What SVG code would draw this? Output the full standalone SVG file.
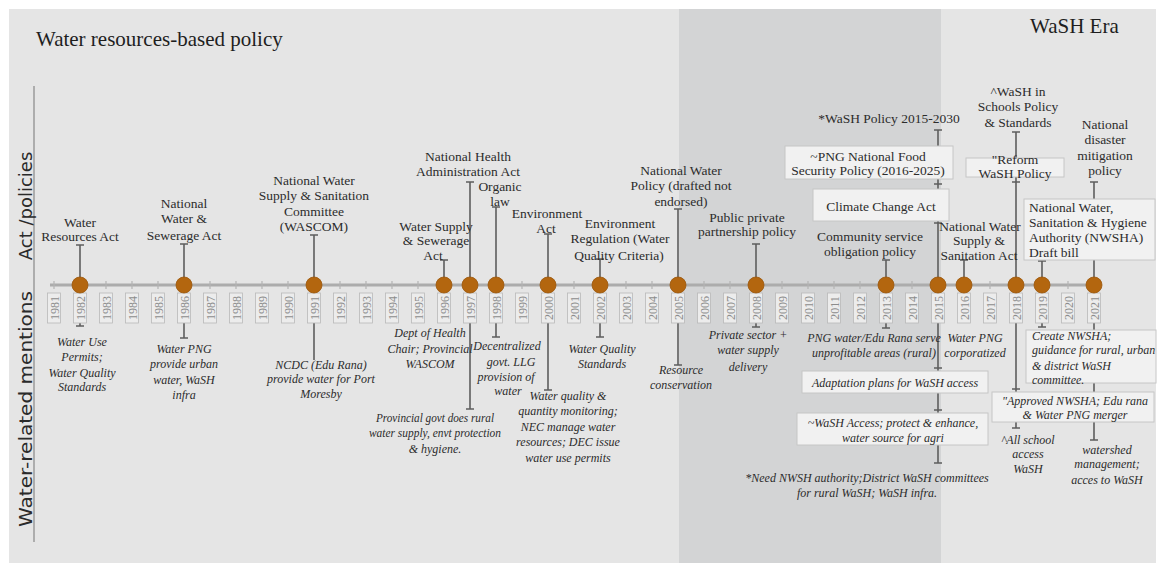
<svg xmlns="http://www.w3.org/2000/svg" width="1162" height="571" viewBox="0 0 1162 571">
<style>
.title{font-family:"Liberation Serif",serif;font-size:21px;fill:#1e1e1e}
.axl{font-family:"DejaVu Sans",sans-serif;font-size:18px;fill:#2a2a2a;text-anchor:middle}
.top{font-family:"Liberation Serif",serif;font-size:13.5px;fill:#2c2c2c;text-anchor:middle}
.topl{font-family:"Liberation Serif",serif;font-size:13.5px;fill:#2c2c2c}
.bot{font-family:"Liberation Serif",serif;font-style:italic;font-size:12px;fill:#2c2c2c;text-anchor:middle}
.botl{font-family:"Liberation Serif",serif;font-style:italic;font-size:12px;fill:#2c2c2c}
.yr{font-family:"Liberation Serif",serif;font-size:12px;fill:#8c8c8c;text-anchor:middle}
.ybox{fill:#ececec;stroke:#b9b9b9;stroke-width:0.8}
.box{fill:#f1f1f1;stroke:#c6c6c6;stroke-width:1}
.dot{fill:#b3660f;stroke:#9a560a;stroke-width:0.8}
.stem{fill:none;stroke:#5e5e5e;stroke-width:1.6}
.tick{stroke:#b4b4b4;stroke-width:1.2}
</style>
<rect x="0" y="0" width="1162" height="571" fill="#ffffff"/>
<rect x="9" y="9" width="1147" height="554" fill="#e5e5e5"/>
<rect x="679" y="9" width="262" height="554" fill="#d3d4d5"/>
<text class="title" x="36" y="46">Water resources-based policy</text>
<text class="title" x="1030" y="33">WaSH Era</text>
<line x1="34" y1="86" x2="34" y2="542" stroke="#9a9a9a" stroke-width="1.5"/>
<text class="axl" transform="translate(32,206) rotate(-90)">Act /policies</text>
<text class="axl" transform="translate(32,409) rotate(-90)" textLength="236" lengthAdjust="spacingAndGlyphs">Water-related mentions</text>
<g id="axis">
<line x1="50" y1="285" x2="1100" y2="285" stroke="#acacac" stroke-width="3"/>
<path class="tick" d="M54 281V289M80 281V289M106 281V289M132 281V289M158 281V289M184 281V289M210 281V289M236 281V289M262 281V289M288 281V289M314 281V289M340 281V289M366 281V289M392 281V289M418 281V289M444 281V289M470 281V289M496 281V289M522 281V289M548 281V289M574 281V289M600 281V289M626 281V289M652 281V289M678 281V289M704 281V289M730 281V289M756 281V289M782 281V289M808 281V289M834 281V289M860 281V289M886 281V289M912 281V289M938 281V289M964 281V289M990 281V289M1016 281V289M1042 281V289M1068 281V289M1094 281V289"/>
</g>
<g id="connectors">
<path class="stem" d="M80 285V245M76 245H84M80 285V326M76 326H84"/>
<path class="stem" d="M184 285V244M180 244H188M184 285V338M180 338H188"/>
<path class="stem" d="M314 285V235M310 235H318M314 285V360"/>
<path class="stem" d="M444 285V260M440 260H448"/>
<path class="stem" d="M470 285V182M466 182H474M470 285V409M466 409H474"/>
<path class="stem" d="M496 285V207M492 207H500M496 285V337M492 337H500"/>
<path class="stem" d="M548 285V234M544 234H552M548 285V390M544 390H552"/>
<path class="stem" d="M600 285V259M596 259H604M600 285V337M596 337H604"/>
<path class="stem" d="M678 285V209M674 209H682M678 285V365M674 365H682"/>
<path class="stem" d="M756 285V244M752 244H760M756 285V327M752 327H760"/>
<path class="stem" d="M886 285V260M882 260H890M886 285V328M882 328H890"/>
<path class="stem" d="M938 285V130M934 130H942M934 184H942M934 223H942M938 285V463M934 368H942M934 410H942M934 463H942"/>
<path class="stem" d="M964 285V260M960 260H968"/>
<path class="stem" d="M1016 285V132M1012 132H1020M1012 182H1020M1016 285V428M1012 389H1020M1012 428H1020"/>
<path class="stem" d="M1042 285V261M1038 261H1046M1042 285V327M1038 327H1046"/>
<path class="stem" d="M1094 285V182M1090 182H1098M1094 285V440M1090 440H1098"/>
</g>
<g id="years">
<rect class="ybox" x="47.5" y="293" width="13" height="30"/><text class="yr" transform="translate(58.5,308) rotate(-90)">1981</text>
<rect class="ybox" x="73.5" y="293" width="13" height="30"/><text class="yr" transform="translate(84.5,308) rotate(-90)">1982</text>
<rect class="ybox" x="99.5" y="293" width="13" height="30"/><text class="yr" transform="translate(110.5,308) rotate(-90)">1983</text>
<rect class="ybox" x="125.5" y="293" width="13" height="30"/><text class="yr" transform="translate(136.5,308) rotate(-90)">1984</text>
<rect class="ybox" x="151.5" y="293" width="13" height="30"/><text class="yr" transform="translate(162.5,308) rotate(-90)">1985</text>
<rect class="ybox" x="177.5" y="293" width="13" height="30"/><text class="yr" transform="translate(188.5,308) rotate(-90)">1986</text>
<rect class="ybox" x="203.5" y="293" width="13" height="30"/><text class="yr" transform="translate(214.5,308) rotate(-90)">1987</text>
<rect class="ybox" x="229.5" y="293" width="13" height="30"/><text class="yr" transform="translate(240.5,308) rotate(-90)">1988</text>
<rect class="ybox" x="255.5" y="293" width="13" height="30"/><text class="yr" transform="translate(266.5,308) rotate(-90)">1989</text>
<rect class="ybox" x="281.5" y="293" width="13" height="30"/><text class="yr" transform="translate(292.5,308) rotate(-90)">1990</text>
<rect class="ybox" x="307.5" y="293" width="13" height="30"/><text class="yr" transform="translate(318.5,308) rotate(-90)">1991</text>
<rect class="ybox" x="333.5" y="293" width="13" height="30"/><text class="yr" transform="translate(344.5,308) rotate(-90)">1992</text>
<rect class="ybox" x="359.5" y="293" width="13" height="30"/><text class="yr" transform="translate(370.5,308) rotate(-90)">1993</text>
<rect class="ybox" x="385.5" y="293" width="13" height="30"/><text class="yr" transform="translate(396.5,308) rotate(-90)">1994</text>
<rect class="ybox" x="411.5" y="293" width="13" height="30"/><text class="yr" transform="translate(422.5,308) rotate(-90)">1995</text>
<rect class="ybox" x="437.5" y="293" width="13" height="30"/><text class="yr" transform="translate(448.5,308) rotate(-90)">1996</text>
<rect class="ybox" x="463.5" y="293" width="13" height="30"/><text class="yr" transform="translate(474.5,308) rotate(-90)">1997</text>
<rect class="ybox" x="489.5" y="293" width="13" height="30"/><text class="yr" transform="translate(500.5,308) rotate(-90)">1998</text>
<rect class="ybox" x="515.5" y="293" width="13" height="30"/><text class="yr" transform="translate(526.5,308) rotate(-90)">1999</text>
<rect class="ybox" x="541.5" y="293" width="13" height="30"/><text class="yr" transform="translate(552.5,308) rotate(-90)">2000</text>
<rect class="ybox" x="567.5" y="293" width="13" height="30"/><text class="yr" transform="translate(578.5,308) rotate(-90)">2001</text>
<rect class="ybox" x="593.5" y="293" width="13" height="30"/><text class="yr" transform="translate(604.5,308) rotate(-90)">2002</text>
<rect class="ybox" x="619.5" y="293" width="13" height="30"/><text class="yr" transform="translate(630.5,308) rotate(-90)">2003</text>
<rect class="ybox" x="645.5" y="293" width="13" height="30"/><text class="yr" transform="translate(656.5,308) rotate(-90)">2004</text>
<rect class="ybox" x="671.5" y="293" width="13" height="30"/><text class="yr" transform="translate(682.5,308) rotate(-90)">2005</text>
<rect class="ybox" x="697.5" y="293" width="13" height="30"/><text class="yr" transform="translate(708.5,308) rotate(-90)">2006</text>
<rect class="ybox" x="723.5" y="293" width="13" height="30"/><text class="yr" transform="translate(734.5,308) rotate(-90)">2007</text>
<rect class="ybox" x="749.5" y="293" width="13" height="30"/><text class="yr" transform="translate(760.5,308) rotate(-90)">2008</text>
<rect class="ybox" x="775.5" y="293" width="13" height="30"/><text class="yr" transform="translate(786.5,308) rotate(-90)">2009</text>
<rect class="ybox" x="801.5" y="293" width="13" height="30"/><text class="yr" transform="translate(812.5,308) rotate(-90)">2010</text>
<rect class="ybox" x="827.5" y="293" width="13" height="30"/><text class="yr" transform="translate(838.5,308) rotate(-90)">2011</text>
<rect class="ybox" x="853.5" y="293" width="13" height="30"/><text class="yr" transform="translate(864.5,308) rotate(-90)">2012</text>
<rect class="ybox" x="879.5" y="293" width="13" height="30"/><text class="yr" transform="translate(890.5,308) rotate(-90)">2013</text>
<rect class="ybox" x="905.5" y="293" width="13" height="30"/><text class="yr" transform="translate(916.5,308) rotate(-90)">2014</text>
<rect class="ybox" x="931.5" y="293" width="13" height="30"/><text class="yr" transform="translate(942.5,308) rotate(-90)">2015</text>
<rect class="ybox" x="957.5" y="293" width="13" height="30"/><text class="yr" transform="translate(968.5,308) rotate(-90)">2016</text>
<rect class="ybox" x="983.5" y="293" width="13" height="30"/><text class="yr" transform="translate(994.5,308) rotate(-90)">2017</text>
<rect class="ybox" x="1009.5" y="293" width="13" height="30"/><text class="yr" transform="translate(1020.5,308) rotate(-90)">2018</text>
<rect class="ybox" x="1035.5" y="293" width="13" height="30"/><text class="yr" transform="translate(1046.5,308) rotate(-90)">2019</text>
<rect class="ybox" x="1061.5" y="293" width="13" height="30"/><text class="yr" transform="translate(1072.5,308) rotate(-90)">2020</text>
<rect class="ybox" x="1087.5" y="293" width="13" height="30"/><text class="yr" transform="translate(1098.5,308) rotate(-90)">2021</text>
</g>
<g id="ev-1982">
<circle class="dot" cx="80" cy="285" r="8"/>
<text class="top" x="80" y="227">Water</text><text class="top" x="80" y="241">Resources Act</text>
<text class="bot" x="82" y="346">Water Use</text><text class="bot" x="82" y="361">Permits;</text><text class="bot" x="82" y="377">Water Quality</text><text class="bot" x="82" y="391">Standards</text>
</g>
<g id="ev-1986">
<circle class="dot" cx="184" cy="285" r="8"/>
<text class="top" x="184" y="208">National</text><text class="top" x="184" y="223">Water &amp;</text><text class="top" x="184" y="240">Sewerage Act</text>
<text class="bot" x="184" y="353">Water PNG</text><text class="bot" x="184" y="368">provide urban</text><text class="bot" x="184" y="384">water, WaSH</text><text class="bot" x="184" y="399">infra</text>
</g>
<g id="ev-1991">
<circle class="dot" cx="314" cy="285" r="8"/>
<text class="top" x="314" y="185">National Water</text><text class="top" x="314" y="200">Supply &amp; Sanitation</text><text class="top" x="314" y="216">Committee</text><text class="top" x="314" y="231">(WASCOM)</text>
<text class="bot" x="321" y="369">NCDC (Edu Rana)</text><text class="bot" x="321" y="383">provide water for Port</text><text class="bot" x="321" y="398">Moresby</text>
</g>
<g id="ev-1996">
<circle class="dot" cx="444" cy="285" r="8"/>
<text class="top" x="436" y="231">Water Supply</text><text class="top" x="436" y="245">&amp; Sewerage</text><text class="top" x="433" y="260">Act</text>
<text class="bot" x="430" y="337">Dept of Health</text><text class="bot" x="430" y="353">Chair; Provincial</text><text class="bot" x="430" y="368">WASCOM</text>
</g>
<g id="ev-1997">
<circle class="dot" cx="470" cy="285" r="8"/>
<text class="top" x="468" y="161">National Health</text><text class="top" x="468" y="176">Administration Act</text>
<text class="bot" x="435" y="422" textLength="118" lengthAdjust="spacingAndGlyphs">Provincial govt does rural</text><text class="bot" x="435" y="437" textLength="132" lengthAdjust="spacingAndGlyphs">water supply, envt protection</text><text class="bot" x="435" y="453">&amp; hygiene.</text>
</g>
<g id="ev-1998">
<circle class="dot" cx="496" cy="285" r="8"/>
<text class="top" x="500" y="191">Organic</text><text class="top" x="500" y="206">law</text>
<text class="bot" x="507" y="350">Decentralized</text><text class="bot" x="511" y="366">govt. LLG</text><text class="bot" x="506" y="381">provision of</text><text class="bot" x="508" y="395">water</text>
</g>
<g id="ev-2000">
<circle class="dot" cx="548" cy="285" r="8"/>
<text class="top" x="547" y="218">Environment</text><text class="top" x="546" y="233">Act</text>
<text class="bot" x="568" y="400">Water quality &amp;</text><text class="bot" x="568" y="415">quantity monitoring;</text><text class="bot" x="568" y="431">NEC manage water</text><text class="bot" x="568" y="446">resources; DEC issue</text><text class="bot" x="568" y="462">water use permits</text>
</g>
<g id="ev-2002">
<circle class="dot" cx="600" cy="285" r="8"/>
<text class="top" x="620" y="228">Environment</text><text class="top" x="620" y="243">Regulation (Water</text><text class="top" x="619" y="260">Quality Criteria)</text>
<text class="bot" x="602" y="353">Water Quality</text><text class="bot" x="602" y="368">Standards</text>
</g>
<g id="ev-2005">
<circle class="dot" cx="678" cy="285" r="8"/>
<text class="top" x="681" y="175">National Water</text><text class="top" x="681" y="190">Policy (drafted not</text><text class="top" x="681" y="206">endorsed)</text>
<text class="bot" x="681" y="374">Resource</text><text class="bot" x="681" y="389">conservation</text>
</g>
<g id="ev-2008">
<circle class="dot" cx="756" cy="285" r="8"/>
<text class="top" x="747" y="222">Public private</text><text class="top" x="747" y="236">partnership policy</text>
<text class="bot" x="748" y="339">Private sector +</text><text class="bot" x="748" y="354">water supply</text><text class="bot" x="748" y="371">delivery</text>
</g>
<g id="ev-2013">
<circle class="dot" cx="886" cy="285" r="8"/>
<text class="top" x="870" y="241">Community service</text><text class="top" x="870" y="256">obligation policy</text>
<text class="bot" x="874" y="342">PNG water/Edu Rana serve</text><text class="bot" x="874" y="357">unprofitable areas (rural)</text>
</g>
<g id="ev-2015">
<circle class="dot" cx="938" cy="285" r="8"/>
<text class="top" x="889" y="123">*WaSH Policy 2015-2030</text>
<rect class="box" x="785" y="146" width="168" height="33"/>
<text class="top" x="868" y="161">~PNG National Food</text><text class="top" x="868" y="175">Security Policy (2016-2025)</text>
<rect class="box" x="813" y="189" width="136" height="32"/>
<text class="top" x="881" y="211">Climate Change Act</text>
<rect class="box" x="802" y="371" width="186" height="22"/>
<text class="bot" x="895" y="387">Adaptation plans for WaSH access</text>
<rect class="box" x="797" y="413" width="191" height="32"/>
<text class="bot" x="893" y="427">~WaSH Access; protect &amp; enhance,</text><text class="bot" x="893" y="442">water source for agri</text>
<text class="bot" x="867" y="482">*Need NWSH authority;District WaSH committees</text><text class="bot" x="867" y="497">for rural WaSH; WaSH infra.</text>
</g>
<g id="ev-2016">
<circle class="dot" cx="964" cy="285" r="8"/>
<text class="top" x="980" y="231">National Water</text><text class="top" x="979" y="245">Supply &amp;</text><text class="top" x="979" y="260">Sanitation Act</text>
<text class="bot" x="975" y="342">Water PNG</text><text class="bot" x="975" y="357">corporatized</text>
</g>
<g id="ev-2018">
<circle class="dot" cx="1016" cy="285" r="8"/>
<text class="top" x="1018" y="96">^WaSH in</text><text class="top" x="1018" y="111">Schools Policy</text><text class="top" x="1018" y="127">&amp; Standards</text>
<rect class="box" x="966" y="158" width="98" height="19"/>
<text class="top" x="1015" y="164">"Reform</text><text class="top" x="1015" y="178">WaSH Policy</text>
<rect class="box" x="992" y="392" width="162" height="30"/>
<text class="bot" x="1075" y="405">"Approved NWSHA; Edu rana</text><text class="bot" x="1075" y="419">&amp; Water PNG merger</text>
<text class="bot" x="1028" y="444">^All school</text><text class="bot" x="1028" y="458">access</text><text class="bot" x="1028" y="473">WaSH</text>
</g>
<g id="ev-2019">
<circle class="dot" cx="1042" cy="285" r="8"/>
<rect class="box" x="1024" y="199" width="131" height="61"/>
<text class="topl" x="1029" y="212">National Water,</text><text class="topl" x="1029" y="227">Sanitation &amp; Hygiene</text><text class="topl" x="1029" y="242">Authority (NWSHA)</text><text class="topl" x="1029" y="257">Draft bill</text>
<rect class="box" x="1026" y="330" width="130" height="53"/>
<text class="botl" x="1032" y="340">Create NWSHA;</text><text class="botl" x="1032" y="354">guidance for rural, urban</text><text class="botl" x="1032" y="370">&amp; district WaSH</text><text class="botl" x="1032" y="384">committee.</text>
</g>
<g id="ev-2021">
<circle class="dot" cx="1094" cy="285" r="8"/>
<text class="top" x="1105" y="129">National</text><text class="top" x="1105" y="144">disaster</text><text class="top" x="1105" y="160">mitigation</text><text class="top" x="1105" y="175">policy</text>
<text class="bot" x="1107" y="454">watershed</text><text class="bot" x="1107" y="468">management;</text><text class="bot" x="1107" y="484">acces to WaSH</text>
</g>
</svg>
